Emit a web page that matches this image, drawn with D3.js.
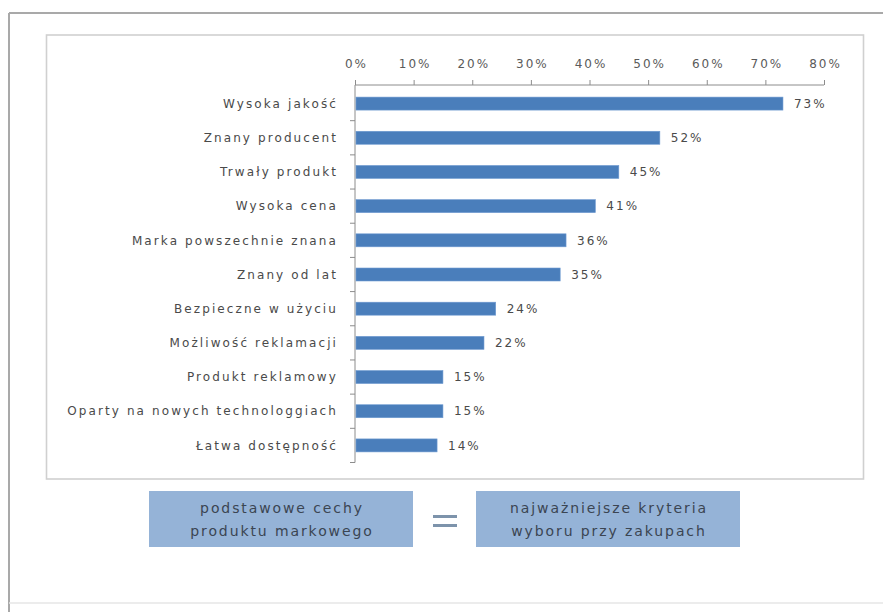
<!DOCTYPE html>
<html>
<head>
<meta charset="utf-8">
<script src="https://cdn.jsdelivr.net/npm/d3@7"></script>
<style>
  html, body { margin: 0; padding: 0; background: #fff; }
  svg { display: block; }
  text { font-family: "DejaVu Sans", sans-serif; }
</style>
</head>
<body>
<svg id="chart" width="883" height="612"></svg>
<script>
// Features of a branded product (share of respondents)
const categories = [
  "Wysoka jakość",
  "Znany producent",
  "Trwały produkt",
  "Wysoka cena",
  "Marka powszechnie znana",
  "Znany od lat",
  "Bezpieczne w użyciu",
  "Możliwość reklamacji",
  "Produkt reklamowy",
  "Oparty na nowych technologgiach",
  "Łatwa dostępność"
];
const values = [0.73, 0.52, 0.45, 0.41, 0.36, 0.35, 0.24, 0.22, 0.15, 0.15, 0.14];
const xTickValues = [0, 0.1, 0.2, 0.3, 0.4, 0.5, 0.6, 0.7, 0.8];
const captionLeft = ["podstawowe cechy", "produktu markowego"];
const captionRight = ["najważniejsze kryteria", "wyboru przy zakupach"];

const svg = d3.select("#chart");
const pct = d3.format(".0%");

// outer frame
svg.append("line").attr("x1", 9).attr("x2", 883).attr("y1", 13).attr("y2", 13)
  .attr("stroke", "#a9a9a9").attr("stroke-width", 2);
svg.append("line").attr("x1", 9).attr("x2", 9).attr("y1", 13).attr("y2", 612)
  .attr("stroke", "#a9a9a9").attr("stroke-width", 2);
svg.append("line").attr("x1", 9).attr("x2", 883).attr("y1", 603).attr("y2", 603)
  .attr("stroke", "#e6e6e6").attr("stroke-width", 1.5);

// chart area box
svg.append("rect").attr("x", 46.5).attr("y", 35).attr("width", 817).attr("height", 444)
  .attr("fill", "#fff").attr("stroke", "#d0d0d0").attr("stroke-width", 1.6);

const x = d3.scaleLinear().domain([0, 0.8]).range([355, 824]);
const y = d3.scaleBand().domain(categories).range([86.5, 462.5])
  .paddingInner(0.62).paddingOuter(0.31);

// top value axis
const axisY = 85;
const gx = svg.append("g").attr("transform", `translate(0,${axisY})`)
  .call(d3.axisTop(x).tickValues(xTickValues).tickFormat(pct).tickSize(5).tickPadding(12));
gx.select(".domain").attr("stroke", "#8c8c8c").attr("d", `M${x(0)},0H${x(0.8)}`);
gx.selectAll(".tick line").attr("stroke", "#8c8c8c");
gx.selectAll(".tick text").attr("fill", "#5a5a5a").style("font-size", "12px")
  .style("letter-spacing", "2px").attr("dx", "1px");

// category axis
const step = y.step();
const boundaries = d3.range(categories.length + 1).map(i => y.range()[0] + i * step);
const gy = svg.append("g");
gy.append("line").attr("x1", x(0)).attr("x2", x(0))
  .attr("y1", axisY).attr("y2", boundaries[boundaries.length - 1])
  .attr("stroke", "#8c8c8c");
gy.selectAll("line.tk").data(boundaries.slice(1)).join("line").attr("class", "tk")
  .attr("x1", x(0) - 5).attr("x2", x(0)).attr("y1", d => d).attr("y2", d => d)
  .attr("stroke", "#8c8c8c");
gy.selectAll("text").data(categories).join("text")
  .attr("x", 338).attr("y", d => y(d) + y.bandwidth() / 2)
  .attr("dy", "0.35em").attr("text-anchor", "end")
  .attr("fill", "#4a4a4a").style("font-size", "12px").style("letter-spacing", "2.1px")
  .text(d => d);

// bars
const rows = categories.map((c, i) => ({ c, v: values[i] }));
svg.append("g").selectAll("rect").data(rows).join("rect")
  .attr("x", x(0) + 1).attr("y", d => y(d.c))
  .attr("width", d => x(d.v) - x(0) - 1).attr("height", y.bandwidth())
  .attr("fill", "#4a7ebb").attr("stroke", "#6f9bd1").attr("stroke-width", 0.6);

// value labels
svg.append("g").selectAll("text").data(rows).join("text")
  .attr("x", d => x(d.v) + 11).attr("y", d => y(d.c) + y.bandwidth() / 2)
  .attr("dy", "0.35em").attr("fill", "#4a4a4a")
  .style("font-size", "12px").style("letter-spacing", "2px")
  .text(d => pct(d.v));

// caption boxes
function captionBox(x0, lines) {
  const g = svg.append("g");
  g.append("rect").attr("x", x0).attr("y", 491).attr("width", 264).attr("height", 56)
    .attr("fill", "#95b3d7");
  g.selectAll("text").data(lines).join("text")
    .attr("x", x0 + 133).attr("y", (d, i) => 508.5 + i * 22.5)
    .attr("dy", "0.35em").attr("text-anchor", "middle")
    .attr("fill", "#3b4552").style("font-size", "14px").style("letter-spacing", "1.9px")
    .text(d => d);
}
captionBox(149, captionLeft);
captionBox(476, captionRight);

// equals sign between the boxes
svg.append("g").selectAll("rect").data([515, 524]).join("rect")
  .attr("x", 433).attr("y", d => d).attr("width", 24).attr("height", 3)
  .attr("fill", "#7d93ab");
</script>
</body>
</html>
